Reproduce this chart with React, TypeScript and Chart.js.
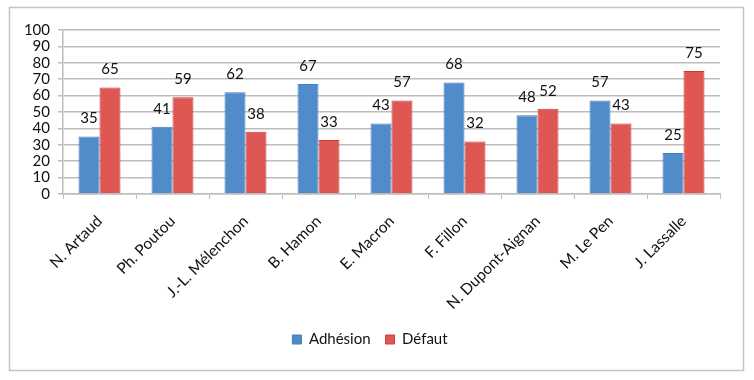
import React, { useEffect, useRef } from "react";
import { Chart, registerables } from "chart.js";

Chart.register(...registerables);

const categories = [
  "N. Artaud",
  "Ph. Poutou",
  "J.-L. Mélenchon",
  "B. Hamon",
  "E. Macron",
  "F. Fillon",
  "N. Dupont-Aignan",
  "M. Le Pen",
  "J. Lassalle",
];
const adhesion = [35, 41, 62, 67, 43, 68, 48, 57, 25];
const defaut = [65, 59, 38, 33, 57, 32, 52, 43, 75];
const seriesNames = ["Adhésion", "Défaut"];

const FONT = "Lato, 'Open Sans', sans-serif";

const frame = {
  id: "frame",
  beforeDraw(chart: any) {
    const ctx = chart.ctx;
    ctx.save();
    ctx.fillStyle = "#ffffff";
    ctx.fillRect(0, 0, chart.width, chart.height);
    ctx.strokeStyle = "#c4c4c4";
    ctx.lineWidth = 1.5;
    ctx.strokeRect(9.5, 7.5, 734, 363);
    ctx.restore();
  },
};

const labelsPlugin = {
  id: "valueLabels",
  afterDatasetsDraw(chart: any) {
    const ctx = chart.ctx;
    ctx.save();
    ctx.font = `15px ${FONT}`;
    ctx.fillStyle = "#111";
    ctx.textAlign = "center";
    ctx.textBaseline = "middle";
    chart.data.datasets.forEach((ds: any, i: number) => {
      const meta = chart.getDatasetMeta(i);
      meta.data.forEach((bar: any, j: number) => {
        ctx.fillText(String(ds.data[j]), bar.x, bar.y - 18);
      });
    });
    ctx.restore();
  },
};

export default function App() {
  const ref = useRef<HTMLCanvasElement>(null);
  useEffect(() => {
    document.body.style.margin = "0";
    const chart = new Chart(ref.current!, {
      type: "bar",
      data: {
        labels: categories,
        datasets: [
          {
            label: seriesNames[0],
            data: adhesion,
            backgroundColor: "#4f8cc9",
            borderColor: "#3f7fc0",
            borderWidth: 1,
            categoryPercentage: 0.575,
            barPercentage: 1,
          },
          {
            label: seriesNames[1],
            data: defaut,
            backgroundColor: "#de5753",
            borderColor: "#c83c3c",
            borderWidth: 1,
            categoryPercentage: 0.575,
            barPercentage: 1,
          },
        ],
      },
      options: {
        animation: false,
        responsive: false,
        layout: { padding: { left: 20, right: 34, top: 30, bottom: 23 } },
        plugins: {
          tooltip: { enabled: false },
          legend: {
            position: "bottom",
            labels: {
              boxWidth: 9,
              boxHeight: 9,
              padding: 15,
              color: "#111",
              font: { family: FONT, size: 15 },
            },
          },
        },
        scales: {
          x: {
            grid: { display: true, drawOnChartArea: false, tickLength: 5, color: "#bdbdbd", offset: true },
            border: { color: "#bdbdbd", width: 1.5 },
            ticks: {
              minRotation: 45,
              maxRotation: 45,
              autoSkip: false,
              color: "#111",
              font: { family: FONT, size: 15.5 },
              padding: 13,
            },
            afterFit(scale: any) {
              scale.height = 123;
            },
          },
          y: {
            min: 0,
            max: 100,
            ticks: {
              stepSize: 10,
              autoSkip: false,
              color: "#111",
              font: { family: FONT, size: 15 },
              padding: 8,
            },
            grid: { color: "#bdbdbd", lineWidth: 1.5, tickLength: 5 },
            border: { color: "#bdbdbd", width: 1.5 },
            afterFit(scale: any) {
              scale.width = 43;
            },
          },
        },
      },
      plugins: [frame, labelsPlugin],
    });
    return () => chart.destroy();
  }, []);
  return <canvas ref={ref} width={754} height={380} style={{ display: "block" }} />;
}
